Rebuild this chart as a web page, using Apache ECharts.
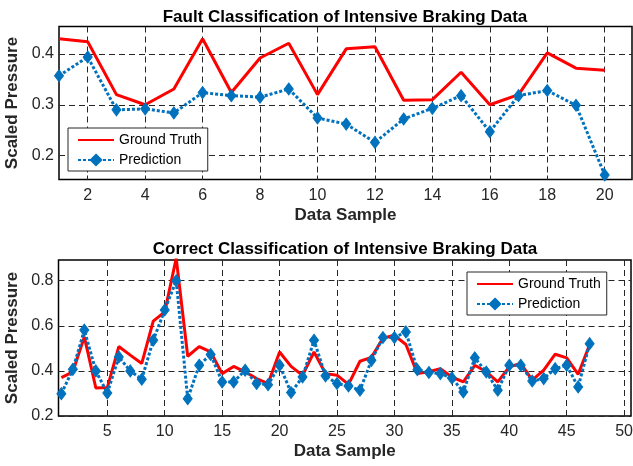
<!DOCTYPE html>
<html>
<head>
<meta charset="utf-8">
<script src="https://cdn.jsdelivr.net/npm/echarts@6/dist/echarts.min.js"></script>
<style>
  html, body { margin: 0; padding: 0; background: #fff; }
  #chart { width: 633px; height: 466px; }
</style>
</head>
<body>
<div id="chart"></div>
<script>
// Fault case: 20 samples
const faultSamples = [1,2,3,4,5,6,7,8,9,10,11,12,13,14,15,16,17,18,19,20];
const faultTruth = [0.430,0.424,0.320,0.300,0.331,0.430,0.324,0.392,0.421,0.320,
                    0.410,0.414,0.309,0.310,0.364,0.300,0.320,0.402,0.372,0.368];
const faultPred  = [0.357,0.394,0.290,0.292,0.284,0.324,0.318,0.315,0.331,0.274,
                    0.262,0.226,0.272,0.293,0.318,0.247,0.318,0.328,0.299,0.162];
const faultXTicks = [2,4,6,8,10,12,14,16,18,20];
const faultYTicks = [0.2,0.3,0.4];

// Correct case: 47 samples
const correctSamples = Array.from({length: 47}, (_, i) => i + 1);
const correctTruth = [0.370,0.396,0.551,0.324,0.326,0.508,0.470,0.433,0.621,0.662,
                      0.900,0.465,0.508,0.484,0.388,0.420,0.396,0.366,0.344,0.484,
                      0.420,0.380,0.484,0.388,0.381,0.340,0.443,0.460,0.545,0.558,
                      0.517,0.388,0.396,0.410,0.373,0.351,0.425,0.396,0.351,0.418,
                      0.433,0.359,0.403,0.474,0.458,0.385,0.517];
const correctPred  = [0.299,0.407,0.581,0.400,0.302,0.462,0.400,0.363,0.536,0.670,
                      0.800,0.277,0.425,0.473,0.351,0.351,0.403,0.344,0.339,0.425,
                      0.304,0.373,0.536,0.378,0.344,0.333,0.314,0.447,0.548,0.548,
                      0.573,0.405,0.393,0.388,0.369,0.307,0.458,0.395,0.314,0.425,
                      0.425,0.355,0.366,0.410,0.425,0.329,0.521];
const correctXTicks = [5,10,15,20,25,30,35,40,45,50];
const correctYTicks = [0.2,0.4,0.6,0.8];

const RED = '#ff0000';
const BLUE = '#0072BD';
const FONT = '"Liberation Sans", Arial, sans-serif';

const pairs = (xs, ys) => xs.map((x, i) => [x, ys[i]]);

function xAxisOf(idx, min, max, ticks) {
  return {
    type: 'value', gridIndex: idx, min: min, max: max,
    name: 'Data Sample', nameLocation: 'middle', nameGap: 27,
    nameTextStyle: { fontFamily: FONT, fontSize: 17, fontWeight: 'bold', color: '#262626' },
    axisLine: { show: false },
    axisTick: { show: true, inside: true, length: 4, customValues: ticks,
                lineStyle: { color: '#262626' } },
    axisLabel: { customValues: ticks, margin: 8, fontFamily: FONT, fontSize: 16, color: '#262626' },
    splitLine: { show: true, lineStyle: { color: '#262626', type: [6, 4], width: 1 } }
  };
}

function yAxisOf(idx, min, max, ticks) {
  return {
    type: 'value', gridIndex: idx, min: min, max: max,
    name: 'Scaled Pressure', nameLocation: 'middle', nameGap: 37, nameRotate: 90,
    nameTextStyle: { fontFamily: FONT, fontSize: 17, fontWeight: 'bold', color: '#262626' },
    axisLine: { show: false },
    axisTick: { show: true, inside: true, length: 4, customValues: ticks,
                lineStyle: { color: '#262626' } },
    axisLabel: { customValues: ticks, margin: 5, fontFamily: FONT, fontSize: 16, color: '#262626',
                 formatter: v => v.toFixed(1) },
    splitLine: { show: true, lineStyle: { color: '#262626', type: [6, 4], width: 1 } }
  };
}

function truthSeries(idx, data) {
  return {
    name: 'Ground Truth', type: 'line', xAxisIndex: idx, yAxisIndex: idx,
    data: data, showSymbol: false, symbol: 'none', clip: true,
    lineStyle: { color: RED, width: 3 }, itemStyle: { color: RED },
    emphasis: { disabled: true }, animation: false
  };
}

function predSeries(idx, data) {
  return {
    name: 'Prediction', type: 'line', xAxisIndex: idx, yAxisIndex: idx,
    data: data, symbol: 'diamond', symbolSize: [9, 12], showAllSymbol: true, clip: true,
    lineStyle: { color: BLUE, width: 3, type: [3, 2] },
    itemStyle: { color: BLUE, borderColor: BLUE, borderWidth: 1 },
    emphasis: { disabled: true }, animation: false, z: 3
  };
}

function legendOf(left, top) {
  return {
    data: [
      // plain line key: no marker on the red series
      { name: 'Ground Truth', itemStyle: { opacity: 0 } },
      { name: 'Prediction' }
    ],
    orient: 'vertical', left: left, top: top,
    padding: [5, 6, 4, 9], itemGap: 6, itemWidth: 36, itemHeight: 13,
    backgroundColor: '#fff', borderColor: '#262626', borderWidth: 1,
    textStyle: { fontFamily: FONT, fontSize: 14, color: '#000' },
    selectedMode: false
  };
}

const chart = echarts.init(document.getElementById('chart'), null, { renderer: 'canvas' });

const gridBase = {
  show: true, borderColor: '#000', borderWidth: 1.5, backgroundColor: 'transparent',
  containLabel: false, outerBoundsMode: 'none'
};

chart.setOption({
  backgroundColor: '#fff',
  animation: false,
  title: [
    { text: 'Fault Classification of Intensive Braking Data', left: 340, top: 4, textAlign: 'center',
      textStyle: { fontFamily: FONT, fontSize: 17, fontWeight: 'bold', color: '#000' } },
    { text: 'Correct Classification of Intensive Braking Data', left: 340, top: 236, textAlign: 'center',
      textStyle: { fontFamily: FONT, fontSize: 17, fontWeight: 'bold', color: '#000' } }
  ],
  grid: [
    Object.assign({ left: 59, top: 26.5, width: 573, height: 153 }, gridBase),
    Object.assign({ left: 58.5, top: 260, width: 572.5, height: 156 }, gridBase)
  ],
  xAxis: [
    xAxisOf(0, 1, 20.95, faultXTicks),
    xAxisOf(1, 0.75, 50.6, correctXTicks)
  ],
  yAxis: [
    yAxisOf(0, 0.153, 0.454, faultYTicks),
    yAxisOf(1, 0.2, 0.892, correctYTicks)
  ],
  legend: [
    legendOf(68, 128),
    legendOf(467, 272)
  ],
  series: [
    truthSeries(0, pairs(faultSamples, faultTruth)),
    predSeries(0, pairs(faultSamples, faultPred)),
    truthSeries(1, pairs(correctSamples, correctTruth)),
    predSeries(1, pairs(correctSamples, correctPred))
  ]
});
</script>
</body>
</html>
